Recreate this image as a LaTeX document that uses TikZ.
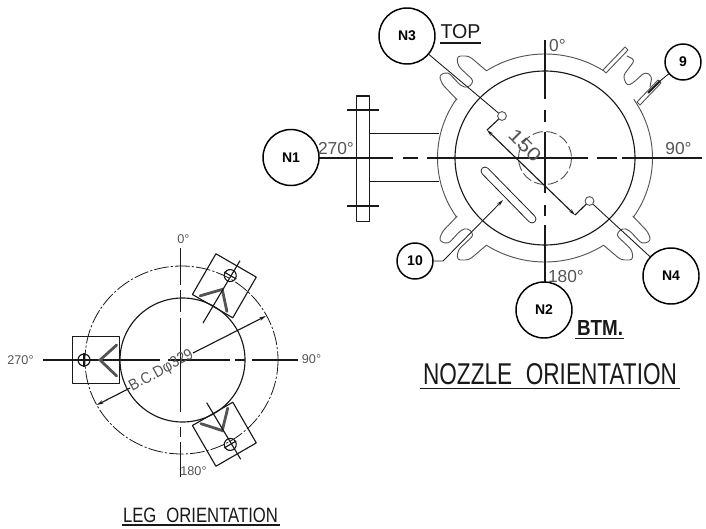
\documentclass[tikz,border=0pt]{standalone}
\usepackage{fontspec}
\setmainfont{Liberation Sans}
\usetikzlibrary{arrows.meta}
\definecolor{ink}{gray}{0.1}
\definecolor{soft}{gray}{0.33}
\tikzset{
  x=0.75pt,y=-0.75pt,
  cad/.style={draw=ink,line width=0.85pt,line join=round},
  thinl/.style={draw=soft,line width=0.7pt,line join=round},
  leader/.style={draw=ink,line width=0.65pt},
  tag/.style={circle,draw=black,line width=1.1pt,fill=white,minimum size=#1*1.5pt,inner sep=0pt,font=\bfseries\fontsize{10.5}{12}\selectfont},
  lbl/.style={inner sep=0pt,text=soft},
  deg/.style={lbl,font=\fontsize{#1}{#1}\selectfont},
  arr/.style={-{Stealth[length=5pt,width=2.6pt]}},
  arrs/.style={{Stealth[length=5pt,width=2.6pt]}-{Stealth[length=5pt,width=2.6pt]}},
  vee/.style={draw=soft,line width=2.1pt,line cap=round,line join=miter},
  dashdot/.style={draw=ink,line width=0.6pt,dash pattern=on 11pt off 1.6pt on 1.6pt off 1.6pt}
}
\newlength{\fbw}\newlength{\fbh}
\newcommand{\fitbox}[3]{\setlength{\fbw}{#1pt}\setlength{\fbw}{0.75\fbw}\setlength{\fbh}{#2pt}\setlength{\fbh}{0.75\fbh}\resizebox{\fbw}{\fbh}{#3}}
\newcommand{\lugs}{%
  \draw[thinl,rounded corners=2.6pt] (-58.3,-87)--(-76,-102)--(-88,-102)--(-87,-92)--(-71,-77)--(-77,-70)--(-84,-72)--(-97,-86)--(-106,-83)--(-103,-74)--(-87.7,-58);%
}
\newcommand{\legparts}{%
  \draw[cad] (72.3,336.7) rectangle (119.3,383.3);
  \draw[cad] (84,360) circle [radius=6];
  \draw[cad] (84,353) -- (84,367);
  \draw[vee] (116.7,345) -- (100,360) -- (116.7,376);
}
\begin{document}
\begin{tikzpicture}
\useasboundingbox (0,0) rectangle (706,528);
\coordinate (nc) at (545,158);
\coordinate (lc) at (181.5,360);

% --- nozzle orientation: shell
\draw[thinl] plot[domain=57:123,samples=30] ({545+107.5*cos(\x)},{158-104*sin(\x)});
\draw[thinl] plot[domain=-34.4:34.4,samples=30] ({545+107.5*cos(\x)},{158-104*sin(\x)});
\draw[thinl] plot[domain=145.6:214.4,samples=30] ({545+107.5*cos(\x)},{158-104*sin(\x)});
\draw[thinl] plot[domain=237:303,samples=30] ({545+107.5*cos(\x)},{158-104*sin(\x)});
\draw[cad] (nc) ellipse [x radius=90,y radius=87];
\draw[thinl,dash pattern=on 8pt off 2.5pt] (nc) circle [radius=26.5];

\begin{scope}[shift={(545,158)}]
  \lugs
\end{scope}
\begin{scope}[shift={(545,158)},yscale=-1]
  \lugs
\end{scope}
\begin{scope}[shift={(545,158)},xscale=-1,yscale=-1]
  \lugs
\end{scope}

% top-right plates and lugs
\draw[thinl] (603,70) -- (625,47) -- (628,50) -- (606,73) -- cycle;
\draw[thinl] (637,102) -- (658,80) -- (661,83) -- (640,105) -- cycle;
\draw[thinl,rounded corners=2.6pt] (627,56) -- (635,60) -- (623,76) -- (627,86) -- (633,83) -- (645,72) -- (652,76) -- (650,87);

% nozzle N1
\draw[cad] (356.7,96) rectangle (369.3,221.7);
\draw[cad] (347,110) -- (379,110);
\draw[cad] (347,206) -- (379,206);
\draw[cad] (369.3,133.3) -- (439,133.3);
\draw[cad] (369.3,181.7) -- (439,181.7);

% slot
\draw[ink,line width=6.6pt,line cap=round] (485,171) -- (532,219);
\draw[white,line width=5.2pt,line cap=round] (485,171) -- (532,219);

% axes
\coordinate (hA) at (319,158);
\draw[cad] (hA) -- (393,158);
\draw[cad] (403,158) -- (418,158);
\draw[cad] (427,158) -- (588,158);
\draw[cad] (597,158) -- (617,158);
\draw[cad] (622,158) -- (702,158);
\draw[cad] (545,40) -- (545,99);
\draw[cad] (545,110) -- (545,122);
\draw[cad] (545,132) -- (545,193);
\draw[cad] (545,205) -- (545,216);
\draw[cad] (545,225) -- (545,283);

% holes and dimension
\node[circle,draw=soft,line width=0.7pt,minimum size=6.6pt,inner sep=0pt] (h3) at (502,116) {};
\node[circle,draw=soft,line width=0.7pt,minimum size=6.6pt,inner sep=0pt] (h4) at (589.5,201) {};
\coordinate (d1) at (487,130);
\coordinate (d2) at (575,215);
\draw[cad] (h3) -- (d1);
\draw[cad] (h4) -- (d2);
\draw[cad,arrs] (d1) -- (d2);
\node[lbl,rotate=-45] (t150) at (525,145) {\fitbox{38}{13}{150}};

% tag circles
\node[tag=28] (n1) at (291,157.5) {N1};
\node[tag=28] (n2) at (544,310) {N2};
\node[tag=28] (n3) at (407,36) {N3};
\node[tag=28] (n4) at (671,276) {N4};
\node[tag=18] (n9) at (683,62) {9};
\node[tag=18] (n10) at (415,261) {10};

% leaders
\draw[cad] (n1.east) -- (hA);
\draw[leader] (n3) -- (h3);
\draw[leader] (n4) -- (h4);
\coordinate (p9) at (648,93);
\coordinate (p9b) at (660,81);
\draw[leader] (n9) -- (p9b);
\draw[draw=ink,line width=1.4pt] (p9b) -- (p9);
\coordinate (k10) at (443,261);
\coordinate (a10) at (503,200);
\draw[leader,arr] (n10) -- (k10) -- (a10);

% nozzle texts
\node[deg=13] (d0) at (557.5,45.5) {0°};
\node[deg=13] (d90) at (678.5,149) {90°};
\node[deg=13] (d270) at (336,148.5) {270°};
\node[deg=13] (d180) at (566,276.5) {180°};
\node[lbl,text=ink] (ttop) at (460.5,32) {\fitbox{40}{14}{TOP}};
\draw[cad] (440,43) -- (481,43);
\node[lbl,text=ink] (tbtm) at (600,327.5) {\fitbox{46}{15}{\textbf{BTM.}}};
\draw[cad,line width=1pt] (575,338.5) -- (624,338.5);
\node[lbl,text=ink] (tno) at (550,374) {\fitbox{254}{21}{NOZZLE\hspace{0.6em}ORIENTATION}};
\draw[cad,line width=0.9pt] (420,388.5) -- (680,388.5);

% --- leg orientation
\draw[dashdot] (lc) ellipse [x radius=96.5,y radius=94];
\draw[cad] (182.5,360) ellipse [x radius=62.5,y radius=62];
\draw[cad] (43,360) -- (160,360);
\draw[cad] (168,360) -- (230,360);
\draw[cad] (235,360) -- (245,360);
\draw[cad] (252,360) -- (298,360);
\draw[cad] (180.7,248) -- (180.7,285);
\draw[cad] (180.7,290) -- (180.7,312);
\draw[cad] (180.7,318) -- (180.7,412);
\draw[cad] (180.7,427) -- (180.7,437);
\draw[cad] (180.7,442) -- (180.7,477);

\legparts
\begin{scope}[rotate around={120:(lc)}]
  \legparts
\end{scope}
\begin{scope}[rotate around={-120:(lc)}]
  \legparts
\end{scope}
\draw[cad] (240,260.7) -- (203,323);
\draw[cad] (206.7,402.7) -- (240.7,459.3);

% B.C.D dimension
\coordinate (b1) at (96.7,405);
\coordinate (b2) at (130,388);
\coordinate (b3) at (193,353);
\coordinate (b4) at (266,316);
\draw[cad,arr] (b2) -- (b1);
\draw[cad,arr] (b3) -- (b4);
\node[lbl,rotate=29] (tbcd) at (161.5,371) {\fitbox{71}{11}{B.C.Dφ329}};

\node[deg=9.5] (l0) at (183.5,239) {0°};
\node[deg=9.5] (l90) at (311.5,359.5) {90°};
\node[deg=9.5] (l270) at (20.5,360) {270°};
\node[deg=9.5] (l180) at (193.5,471.5) {180°};
\node[lbl,text=ink] (tleg) at (200.5,515.5) {\fitbox{155}{14.5}{LEG\hspace{0.6em}ORIENTATION}};
\draw[cad,line width=0.9pt] (122,525) -- (280,525);
\end{tikzpicture}
\end{document}
